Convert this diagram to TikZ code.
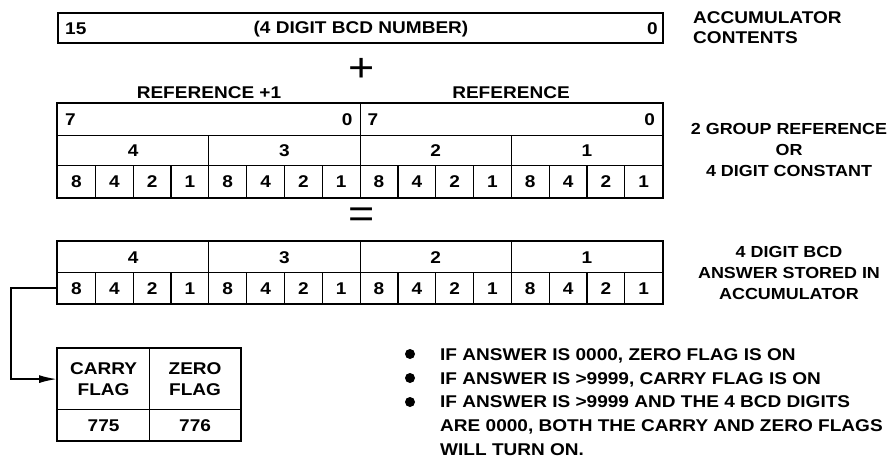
\documentclass[tikz,border=0pt]{standalone}
\usepackage{fontspec}
\setmainfont{Liberation Sans}[FakeStretch=1.12]
\usetikzlibrary{arrows.meta}
\begin{document}
\begin{tikzpicture}[x=1pt,y=-1pt,
  txt/.style={font=\bfseries\fontsize{17}{21}\selectfont, inner sep=0pt},
  side/.style={font=\bfseries\fontsize{16}{21}\selectfont, inner sep=0pt, align=center},
  lbl/.style={txt, text height=12.2pt, text depth=0pt},
  cell/.style={draw, line width=1.2pt, inner sep=0pt, anchor=north west,
    font=\bfseries\fontsize{17}{21}\selectfont, text height=12.2pt, text depth=0pt},
  outer/.style={draw, line width=2pt},
  conn/.style={draw, line width=1.8pt, -{Latex[length=18pt,width=8pt]}},
  dot/.style={circle, fill, inner sep=0pt, minimum size=10pt},
  sym/.style={font=\fontsize{40}{40}\selectfont, inner sep=0pt}]
\useasboundingbox (0,0) rectangle (892,466);

% accumulator contents
\node[draw, line width=2pt, anchor=north west, minimum width=605pt, minimum height=30pt, inner sep=0pt] (acc) at (57,12) {};
\node[lbl, anchor=west] (acc15) at ([xshift=8pt]acc.west) {15};
\node[lbl] (accnum) at (361,27) {(4 DIGIT BCD NUMBER)};
\node[lbl, anchor=east] (acc0) at ([xshift=-6pt]acc.east) {0};
\node[txt, align=left, anchor=west, font=\bfseries\fontsize{17}{20}\selectfont] (acclab) at (693,28) {ACCUMULATOR\\CONTENTS};

\node[sym] (plus) at (362,70) {+};

% reference
\node[lbl] (refhi) at (209,92) {REFERENCE +1};
\node[lbl] (reflo) at (511,92) {REFERENCE};
\node[cell, minimum width=302.5pt, minimum height=32pt] (rh) at (57,103) {};
\node[cell, minimum width=302.5pt, minimum height=32pt] (rl) at (359.5,103) {};
\node[lbl, anchor=west] (rh7) at ([xshift=8pt]rh.west) {7};
\node[lbl, anchor=east] (rh0) at ([xshift=-8pt]rh.east) {0};
\node[lbl, anchor=west] (rl7) at ([xshift=8pt]rl.west) {7};
\node[lbl, anchor=east] (rl0) at ([xshift=-8pt]rl.east) {0};
\foreach \g/\lab in {1/4,2/3,3/2,4/1}{
  \node[cell, minimum width=151.25pt, minimum height=30pt] (rg\g) at ({57+(\g-1)*151.25},135) {\lab};
}
\foreach \i in {1,...,16}{
  \pgfmathtruncatemacro{\d}{2^(3-mod(\i-1,4))}
  \node[cell, minimum width=37.8125pt, minimum height=32pt] (rb\i) at ({57+(\i-1)*37.8125},165) {\d};
}
\draw[outer] (rh.north west) rectangle (rb16.south east);
\node[side] (reflab) at (789,150) {2 GROUP REFERENCE\\OR\\4 DIGIT CONSTANT};

\node[sym] (equal) at (362,218) {=};

% answer
\foreach \g/\lab in {1/4,2/3,3/2,4/1}{
  \node[cell, minimum width=151.25pt, minimum height=31pt] (ag\g) at ({57+(\g-1)*151.25},241) {\lab};
}
\foreach \i in {1,...,16}{
  \pgfmathtruncatemacro{\d}{2^(3-mod(\i-1,4))}
  \node[cell, minimum width=37.8125pt, minimum height=31pt] (ab\i) at ({57+(\i-1)*37.8125},272) {\d};
}
\draw[outer] (ag1.north west) rectangle (ab16.south east);
\node[side] (anslab) at (789,273) {4 DIGIT BCD\\ANSWER STORED IN\\ACCUMULATOR};

% flags
\node[cell, minimum width=92pt, minimum height=61pt, align=center, text height=, text depth=] (carry) at (57,348) {CARRY\\FLAG};
\node[cell, minimum width=91pt, minimum height=61pt, align=center, text height=, text depth=] (zero) at (149,348) {ZERO\\FLAG};
\node[cell, minimum width=92pt, minimum height=31pt] (c775) at (57,409) {775};
\node[cell, minimum width=91pt, minimum height=31pt] (c776) at (149,409) {776};
\draw[outer] (carry.north west) rectangle (c776.south east);

\draw[conn] (ab1.west) -- ++(-46,0) |- (carry.west);

% notes
\node[dot] (d1) at (410,354) {};
\node[dot] (d2) at (410,378) {};
\node[dot] (d3) at (410,402) {};
\node[lbl, anchor=west] (n1) at (440,354) {IF ANSWER IS 0000, ZERO FLAG IS ON};
\node[lbl, anchor=west] (n2) at (440,378) {IF ANSWER IS >9999, CARRY FLAG IS ON};
\node[txt, align=left, anchor=north west, font=\bfseries\fontsize{17}{24}\selectfont] (n3) at (440,395.9) {IF ANSWER IS >9999 AND THE 4 BCD DIGITS\\ARE 0000, BOTH THE CARRY AND ZERO FLAGS\\WILL TURN ON.};
\end{tikzpicture}
\end{document}
